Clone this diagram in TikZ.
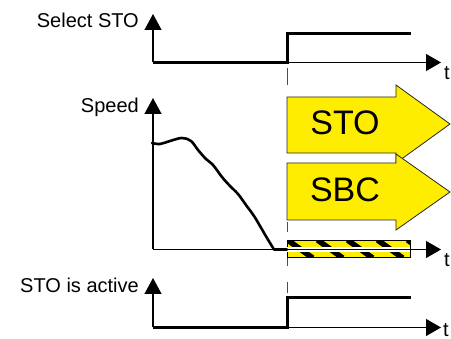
\documentclass[tikz,border=0pt]{standalone}
\usepackage{fontspec}
\setmainfont{Liberation Sans}
\usetikzlibrary{arrows.meta}
\definecolor{sigyellow}{RGB}{255,237,0}
\begin{document}
\begin{tikzpicture}[x=1pt,y=-1pt,
  axis/.style={line width=1.3pt,-{Triangle[length=15pt,width=17pt]}},
  yaxis/.style={line width=1.3pt,-{Triangle[length=16pt,width=17pt]}},
  signal/.style={line width=3pt, line join=miter},
  lbl/.style={font=\fontsize{20}{24}\selectfont, anchor=base east, inner sep=0pt},
  tlbl/.style={font=\fontsize{20}{24}\selectfont, anchor=base west, inner sep=0pt},
  bigarrow/.style={fill=sigyellow, draw=black!85, line width=0.8pt, line join=miter},
  biglbl/.style={font=\fontsize{34}{40}\selectfont, anchor=base, inner sep=0pt},
  tickmark/.style={line width=1pt, black!70}]
\useasboundingbox (0,0) rectangle (451,339);

% ---------- dashed time marker ----------
\draw[tickmark] (287,68) -- (287,85);
\draw[tickmark] (287,222) -- (287,232);
\draw[tickmark] (287,258) -- (287,266);
\draw[tickmark] (287,282) -- (287,293);

% ---------- Select STO ----------
\coordinate (o1) at (153,62.5);
\coordinate (x1) at (441,62.5);
\coordinate (y1) at (153,14);
\draw[axis] (o1) -- (x1);
\draw[yaxis] (o1) -- (y1);
\draw[signal] (o1) -- (287,62.5) -- (287,34) -- (411,34);
\node[lbl] (selsto) at (139,27.5) {Select STO};
\node[tlbl] (t1) at (444,80) {t};

% ---------- Speed ----------
\coordinate (o2) at (153,249.5);
\coordinate (x2) at (441,249.5);
\coordinate (y2) at (153,98);
\node[lbl] (speed) at (139,112.5) {Speed};

% STO arrow
\draw[bigarrow] (287,97) -- (396,97) -- (396,85) -- (450,124) -- (396,163) -- (396,153) -- (287,153) -- cycle;
\node[biglbl] (sto) at (345,135) {STO};
% SBC arrow
\draw[bigarrow] (287,163) -- (396,163) -- (396,154) -- (450,192) -- (396,230) -- (396,220) -- (287,220) -- cycle;
\node[biglbl] (sbc) at (345,202) {SBC};

% hatched band
\begin{scope}
  \clip (287,240.5) rectangle (410,257.5);
  \fill[sigyellow] (287,240) rectangle (410,258);
  \foreach \k in {-1,...,4}
    \draw[line width=5.5pt] ({287.5+30*\k},240) -- ++(25.2,18);
\end{scope}
\draw[line width=0.8pt] (287,240.5) rectangle (410,257.5);
\draw[white, line width=4.5pt] (287,249.5) -- (410,249.5);

\draw[axis] (o2) -- (x2);
\draw[yaxis] (o2) -- (y2);
\draw[line width=2.6pt, line join=round, line cap=round]
  plot[smooth, tension=0.6] coordinates {(152,143) (160,144) (170,141) (182,138) (191,141) (198,150) (206,159) (213,165) (222,177) (230,186) (238,194) (246,205) (254,216) (260,226) (267,238) (274,249.5)}
  -- (287,249.5);
\node[tlbl] (t2) at (444,267) {t};

% ---------- STO is active ----------
\coordinate (o3) at (153,327.5);
\coordinate (x3) at (441,327.5);
\coordinate (y3) at (153,278);
\draw[axis] (o3) -- (x3);
\draw[yaxis] (o3) -- (y3);
\draw[signal] (o3) -- (287,327.5) -- (287,298) -- (411,298);
\node[lbl] (active) at (139,293) {STO is active};
\node[tlbl] (t3) at (443,337) {t};
\end{tikzpicture}
\end{document}
